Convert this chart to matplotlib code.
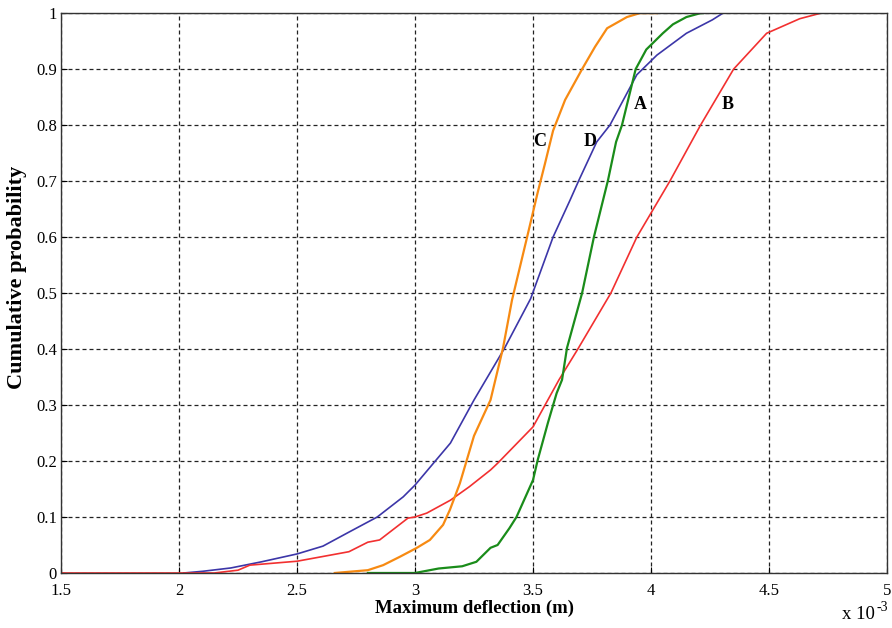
import matplotlib
matplotlib.use("Agg")
import matplotlib.pyplot as plt

# maximum deflection values, in units of 1e-3 m, and cumulative probability
xa = [2.80, 3.00, 3.10, 3.20, 3.26, 3.32, 3.35, 3.40, 3.43, 3.50, 3.52, 3.563, 3.60, 3.623, 3.644,
      3.708, 3.758, 3.818, 3.852, 3.877, 3.935, 3.98, 4.05, 4.093, 4.15, 4.21, 4.22]
ya = [0.0, 0.0, 0.008, 0.012, 0.02, 0.045, 0.05, 0.08, 0.10, 0.166, 0.202, 0.268, 0.321, 0.345, 0.402,
      0.50, 0.60, 0.702, 0.77, 0.80, 0.90, 0.935, 0.964, 0.98, 0.993, 1.0, 1.0]

xb = [1.50, 2.15, 2.25, 2.30, 2.50, 2.72, 2.80, 2.85, 2.97, 3.00, 3.05, 3.15, 3.23, 3.32, 3.35,
      3.50, 3.61, 3.69, 3.83, 3.94, 4.08, 4.21, 4.35, 4.49, 4.63, 4.72, 4.82]
yb = [0.0, 0.0, 0.005, 0.014, 0.021, 0.038, 0.055, 0.059, 0.098, 0.10, 0.107, 0.13, 0.154, 0.184, 0.196,
      0.261, 0.345, 0.40, 0.50, 0.60, 0.70, 0.80, 0.90, 0.964, 0.99, 1.0, 1.0]

xc = [2.66, 2.80, 2.865, 2.936, 3.008, 3.063, 3.119, 3.148, 3.19, 3.25, 3.32, 3.373, 3.411, 3.475,
      3.52, 3.55, 3.585, 3.636, 3.708, 3.763, 3.814, 3.898, 3.953, 4.025]
yc = [0.0, 0.005, 0.014, 0.029, 0.045, 0.059, 0.086, 0.113, 0.16, 0.245, 0.309, 0.402, 0.4875, 0.60,
      0.68, 0.73, 0.79, 0.845, 0.90, 0.94, 0.973, 0.993, 1.0, 1.0]

xd = [2.02, 2.10, 2.22, 2.35, 2.50, 2.61, 2.72, 2.84, 2.95, 3.00, 3.15, 3.25, 3.38, 3.49, 3.585,
      3.657, 3.695, 3.77, 3.826, 3.94, 4.025, 4.15, 4.26, 4.305, 4.41]
yd = [0.0, 0.003, 0.009, 0.02, 0.034, 0.048, 0.073, 0.10, 0.136, 0.157, 0.232, 0.309, 0.402, 0.49, 0.60,
      0.666, 0.702, 0.77, 0.80, 0.89, 0.925, 0.964, 0.988, 1.0, 1.0]

labels = ["A", "B", "C", "D"]
label_x = [3.953, 4.326, 3.53, 3.742]
label_y = [0.8375, 0.8375, 0.771, 0.771]

serif = "Liberation Serif"

fig = plt.figure(figsize=(8.92, 6.28), dpi=100)
ax = fig.add_axes([0.0684, 0.0876, 0.926, 0.8915])

ax.plot(xd, yd, color="#3c36a8", lw=1.2)
ax.plot(xb, yb, color="#f23030", lw=1.2)
ax.plot(xc, yc, color="#f78a12", lw=1.6)
ax.plot(xa, ya, color="#1a8c1a", lw=1.6)

for t, x, y in zip(labels, label_x, label_y):
    ax.text(x, y, t, fontsize=13, fontweight="bold", family=serif, ha="center", va="center")

ax.set_xlim(1.5, 5)
ax.set_ylim(0, 1)
ax.set_xticks([1.5, 2, 2.5, 3, 3.5, 4, 4.5, 5])
ax.set_xticklabels(["1.5", "2", "2.5", "3", "3.5", "4", "4.5", "5"])
ax.set_yticks([i / 10 for i in range(11)])
ax.set_yticklabels(["0", "0.1", "0.2", "0.3", "0.4", "0.5", "0.6", "0.7", "0.8", "0.9", "1"])
ax.tick_params(direction="in", length=4, width=0.8, labelsize=12, pad=3)
ax.tick_params(axis="x", pad=7)
for lab in ax.get_xticklabels() + ax.get_yticklabels():
    lab.set_family(serif)

ax.grid(True, color="#222222", linestyle=(0, (3.2, 2.4)), linewidth=0.9)
for s in ax.spines.values():
    s.set_linewidth(1.0)
    s.set_color("#333333")

ax.set_xlabel("Maximum deflection (m)", fontsize=13.5, fontweight="bold", family=serif, labelpad=1)
ax.set_ylabel("Cumulative probability", fontsize=16, fontweight="bold", family=serif)
ax.yaxis.set_label_coords(-0.041, 0.528)

fig.text(0.944, 0.008, "x 10", fontsize=13.5, family=serif, ha="left", va="bottom")
fig.text(0.983, 0.022, "-3", fontsize=10, family=serif, ha="left", va="bottom")

fig.savefig("out.png", dpi=100)
